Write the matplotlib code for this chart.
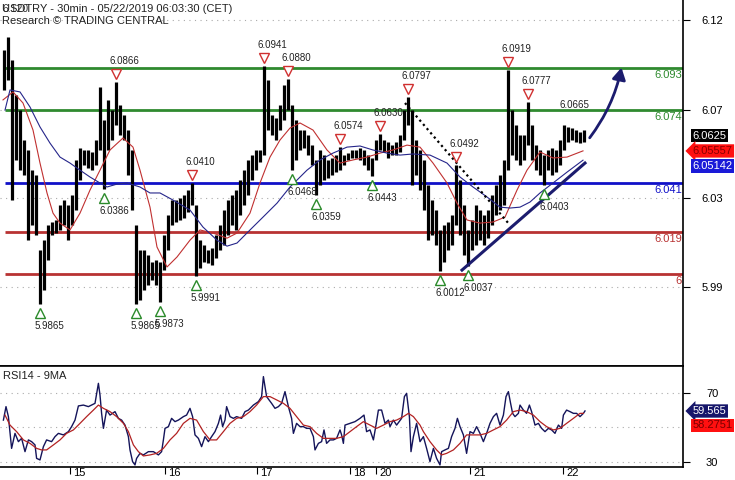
import matplotlib
matplotlib.use("Agg")
import matplotlib.pyplot as plt
import matplotlib.transforms as mtransforms
from matplotlib.patches import FancyArrowPatch
import numpy as np

plt.rcParams['font.family'] = ['Liberation Sans', 'DejaVu Sans']

# ---- price bars (one column per hour, high / low) ----
hi = [6.1011, 6.1070, 6.0966, 6.0808, 6.0740, 6.0605, 6.0560, 6.0469, 6.0447, 6.0108,
      6.0153, 6.0221, 6.0235, 6.0244, 6.0311, 6.0334, 6.0311, 6.0357, 6.0515, 6.0569,
      6.0560, 6.0560, 6.0551, 6.0605, 6.0844, 6.0695, 6.0786, 6.0740, 6.0866, 6.0763,
      6.0718, 6.0650, 6.0560, 6.0221, 6.0108, 6.0108, 6.0086, 6.0054, 6.0063, 6.0054,
      6.0176, 6.0266, 6.0334, 6.0334, 6.0343, 6.0357, 6.0379, 6.0410, 6.0311, 6.0153,
      6.0131, 6.0108, 6.0117, 6.0176, 6.0221, 6.0289, 6.0334, 6.0357, 6.0379, 6.0424,
      6.0469, 6.0515, 6.0537, 6.0560, 6.0560, 6.0941, 6.0876, 6.0718, 6.0704, 6.0763,
      6.0853, 6.0880, 6.0763, 6.0695, 6.0650, 6.0650, 6.0628, 6.0582, 6.0515, 6.0560,
      6.0537, 6.0515, 6.0524, 6.0537, 6.0574, 6.0537, 6.0546, 6.0560, 6.0560, 6.0569,
      6.0560, 6.0537, 6.0524, 6.0605, 6.0630, 6.0605, 6.0596, 6.0582, 6.0596, 6.0628,
      6.0740, 6.0797, 6.0740, 6.0605, 6.0560, 6.0515, 6.0402, 6.0334, 6.0289, 6.0199,
      6.0221, 6.0235, 6.0266, 6.0492, 6.0424, 6.0311, 6.0199, 6.0244, 6.0311, 6.0289,
      6.0266, 6.0289, 6.0357, 6.0402, 6.0447, 6.0515, 6.0919, 6.0740, 6.0673, 6.0628,
      6.0628, 6.0777, 6.0673, 6.0582, 6.0560, 6.0537, 6.0560, 6.0569, 6.0560, 6.0605,
      6.0673, 6.0664, 6.0659, 6.0650, 6.0641, 6.0650]
lo = [6.0831, 6.0876, 6.0334, 6.0515, 6.0469, 6.0447, 6.0153, 6.0221, 6.0176, 5.9865,
      5.9928, 6.0063, 6.0176, 6.0185, 6.0199, 6.0221, 6.0153, 6.0221, 6.0289, 6.0424,
      6.0492, 6.0478, 6.0469, 6.0492, 6.0560, 6.0386, 6.0560, 6.0605, 6.0673, 6.0628,
      6.0605, 6.0447, 6.0289, 5.9865, 5.9883, 5.9928, 5.9950, 5.9973, 5.9950, 5.9873,
      6.0018, 6.0108, 6.0221, 6.0235, 6.0244, 6.0253, 6.0280, 6.0311, 5.9991, 6.0027,
      6.0054, 6.0050, 6.0041, 6.0072, 6.0108, 6.0131, 6.0176, 6.0221, 6.0199, 6.0266,
      6.0311, 6.0357, 6.0424, 6.0469, 6.0506, 6.0537, 6.0650, 6.0628, 6.0605, 6.0650,
      6.0695, 6.0740, 6.0468, 6.0515, 6.0560, 6.0569, 6.0537, 6.0492, 6.0359, 6.0402,
      6.0424, 6.0433, 6.0447, 6.0460, 6.0469, 6.0492, 6.0515, 6.0524, 6.0524, 6.0515,
      6.0492, 6.0469, 6.0443, 6.0515, 6.0560, 6.0551, 6.0524, 6.0537, 6.0537, 6.0551,
      6.0605, 6.0673, 6.0402, 6.0447, 6.0379, 6.0289, 6.0153, 6.0176, 6.0131, 6.0012,
      6.0054, 6.0108, 6.0131, 6.0221, 6.0176, 6.0086, 6.0037, 6.0108, 6.0131, 6.0153,
      6.0131, 6.0162, 6.0221, 6.0266, 6.0289, 6.0311, 6.0469, 6.0537, 6.0515, 6.0492,
      6.0515, 6.0582, 6.0515, 6.0469, 6.0447, 6.0403, 6.0469, 6.0447, 6.0460, 6.0492,
      6.0560, 6.0596, 6.0605, 6.0596, 6.0591, 6.0596]
bar_x = np.arange(len(hi)) * 2

# ---- moving averages on price ----
red_x = [-0.5, 4.5, 9.5, 14.5, 18, 21.5, 24.5, 28, 33, 38, 43, 48, 53, 59.5, 64.5, 68, 73,
         76.5, 81.5, 86.5, 93, 98, 104.5, 111.5, 116.5, 123, 128, 133, 138, 143, 148, 154.5,
         161.5, 168, 174.5, 181.5, 188, 194.5, 201.5, 208, 214.5, 221.5, 226.5, 231.5, 238,
         244.5, 250.5, 256.5, 261.5, 268, 274.5, 281.5, 289.5]
red_v = [6.0786, 6.0822, 6.0772, 6.0650, 6.0501, 6.0366, 6.0275, 6.0230, 6.0199, 6.0275,
         6.0379, 6.0469, 6.0560, 6.0614, 6.0573, 6.0469, 6.0302, 6.0122, 6.0032, 6.0077,
         6.0153, 6.0199, 6.0185, 6.0162, 6.0185, 6.0275, 6.0411, 6.0528, 6.0605, 6.0659,
         6.0682, 6.0650, 6.0560, 6.0501, 6.0515, 6.0528, 6.0546, 6.0560, 6.0582, 6.0573,
         6.0501, 6.0411, 6.0320, 6.0244, 6.0230, 6.0235, 6.0257, 6.0379, 6.0469, 6.0551,
         6.0524, 6.0528, 6.0556]
blue_x = [0.5, 3, 8, 13, 18, 23, 28, 33, 38, 43, 48, 51.5, 56.5, 61.5, 68, 73, 78, 84.5, 93,
          99.5, 106.5, 111.5, 116.5, 123, 129.5, 136.5, 143, 151.5, 158, 164.5, 171.5, 178,
          184.5, 191.5, 198, 204.5, 213, 221.5, 228, 234.5, 241.5, 248, 253, 258, 263, 268,
          274.5, 281.5, 289.5]
blue_v = [6.0740, 6.0831, 6.0822, 6.0754, 6.0664, 6.0591, 6.0528, 6.0501, 6.0469, 6.0438,
          6.0411, 6.0393, 6.0406, 6.0411, 6.0393, 6.0366, 6.0366, 6.0334, 6.0289, 6.0212,
          6.0153, 6.0126, 6.0140, 6.0199, 6.0257, 6.0320, 6.0393, 6.0469, 6.0515, 6.0546,
          6.0573, 6.0578, 6.0560, 6.0546, 6.0537, 6.0542, 6.0537, 6.0501, 6.0438, 6.0393,
          6.0348, 6.0302, 6.0298, 6.0302, 6.0325, 6.0366, 6.0411, 6.0460, 6.0514]

# ---- support / resistance levels ----
green_levels = [6.093, 6.074]
blue_levels = [6.041]
red_levels = [6.019, 6.000]
level_labels = {6.093: "6.093", 6.074: "6.074", 6.041: "6.041", 6.019: "6.019", 6.000: "6"}

# ---- swing labels ----
top_x = [56, 94, 130, 142, 168, 188, 202, 226, 252, 262]
top_v = [6.0866, 6.0410, 6.0941, 6.0880, 6.0574, 6.0630, 6.0797, 6.0492, 6.0919, 6.0777]
bot_x = [18, 50, 66, 78, 96, 144, 156, 184, 218, 232, 270]
bot_v = [5.9865, 6.0386, 5.9865, 5.9873, 5.9991, 6.0468, 6.0359, 6.0443, 6.0012, 6.0037, 6.0403]

# ---- drawn lines ----
dot_x = [200.5, 253]
dot_v = [6.0772, 6.0221]
trend_x = [229, 290.5]
trend_v = [6.0018, 6.0501]
arrow_x = [292, 309]
arrow_v = [6.0605, 6.0944]

# ---- RSI ----
rsi_x = [-0.3, 1, 2.2, 3.8, 5.5, 7.2, 8.8, 10.5, 12.2, 13.8, 15.5, 16.3, 18, 19.7, 21.3, 23.8,
         25.5, 27.2, 29.7, 32.2, 33.8, 35.5, 37.2, 39.7, 42.2, 45.5, 47.2, 48, 48.8, 49.7,
         51.3, 53, 55.5, 57.2, 58.8, 60.5, 62.2, 63, 64.3, 65.5, 66.3, 68, 69.7, 72.2, 74.7,
         77.2, 78.8, 79.7, 80.5, 82.2, 83.8, 85.5, 87.2, 89.7, 91.3, 93, 94.3, 95.5, 97.2,
         98.8, 100.5, 102.2, 103.8, 105.5, 107.2, 108.3, 109.3, 110.5, 111.3, 113, 114.7,
         116.3, 118.8, 120.5, 122.2, 124.7, 127.2, 128.8, 129.7, 131.3, 133.8, 135.5, 137.2,
         138.8, 140.5, 142.2, 143.8, 144.7, 146.3, 148,
         149.7, 151.3, 153, 154.7, 155.5, 157.2, 158.8, 160, 161.3, 163, 164.7, 166.3, 168,
         168.8, 169.7, 170.5, 173, 175.5, 178, 180, 181.3, 183, 184.7, 186, 187.2, 188.8,
         190.5, 192.2, 193, 194.7, 196.3, 198.8, 200.2, 201.3, 202.7, 203.5, 204.7, 206.3,
         208, 209.7, 211.3, 213, 214.7, 216.3, 218, 218.8, 220.5, 222.2, 223.8, 225.5, 226.7,
         228, 229.7, 231.3, 233, 234.7, 236.3, 238, 239.7, 241.3, 243, 244.7, 246.3, 248,
         249.7, 251, 252.2, 253.3, 254.3, 255.5, 257.2, 258, 259.7, 261.3, 262.7, 263.8,
         265.5, 267.2, 268.8, 270.5, 272.2, 273.8, 275.5, 277.2, 278.8, 279.7, 281.3, 283,
         284.7, 286.3, 288, 289.7, 290.5]
rsi_v = [54.3, 62.1, 56.3, 37.9, 46.6, 41.8, 43.7, 36.0, 42.8, 41.8, 39.9, 32.1, 31.2, 38.9,
         42.8, 41.8, 44.7, 46.6, 45.7, 47.6, 50.5, 54.3, 62.5, 63.0, 62.1, 64.0, 75.6, 68.8,
         58.2, 49.5, 60.1, 57.2, 59.2, 55.3, 54.3, 51.4, 44.7, 37.0, 30.2, 28.3, 32.1, 35.0,
         34.1, 36.0, 36.0, 34.1, 36.0, 42.8, 49.5, 50.5, 55.3, 53.4, 54.3, 56.3, 57.2, 61.1,
         56.3, 45.7, 43.7, 38.9, 44.7, 41.8, 44.7, 47.6, 52.4, 57.2, 50.5, 54.3, 62.1, 56.3,
         55.3, 56.3, 55.3, 59.2, 60.1, 63.0, 65.0, 67.9, 79.5, 67.9, 64.0, 61.1, 62.1, 64.0,
         70.8, 62.1, 55.3, 46.6, 52.4, 50.5,
         50.5, 49.5, 49.5, 44.7, 37.0, 40.8, 41.8, 48.6, 40.8, 42.8, 42.8, 43.7, 48.6, 45.7,
         40.8, 51.4, 52.4, 53.4, 55.3, 57.2, 47.6, 48.6, 42.8, 51.4, 60.1, 60.1, 52.4, 54.3,
         50.5, 54.3, 51.4, 55.3, 67.9, 69.8, 56.3, 36.0, 44.7, 52.4, 41.8, 44.7, 37.9, 30.2,
         37.9, 32.1, 28.3, 36.0, 37.0, 37.9, 44.7, 49.5, 55.3, 50.5, 45.7, 35.0, 47.6, 46.6,
         50.5, 46.6, 41.8, 46.6, 52.4, 56.3, 58.2, 51.4, 57.2, 67.9, 70.8, 64.0, 58.2, 56.3,
         58.2, 63.0, 60.1, 58.2, 63.0, 59.2, 51.4, 52.4, 49.5, 47.6, 49.5, 48.6, 46.6, 51.4,
         49.5, 57.2, 60.1, 59.2, 58.2, 58.2, 56.3, 58.2, 59.6]
rma_x = [0.5, 3, 6.3, 9.7, 13, 16.3, 18.8, 21.3, 24.7, 28, 31.3, 34.7, 38, 41.3, 44.7, 47.2,
         49.7, 53, 56.3, 59.7, 62.2, 64.7, 67.2, 69.7, 73, 76.3, 79.7, 83, 86.3, 89.7, 93,
         96.3, 99.7, 103, 106.3, 109.7, 113, 116.3, 119.7, 123, 126.3, 129.7, 133, 136.3,
         139.7, 143, 146.3, 149.7, 153, 156.3, 159.7, 163, 166.3, 169.7, 173, 176.3, 179.7,
         183, 186.3, 189.7, 193, 196.3, 199.7, 202.2, 204.7, 208, 209.7, 213, 216.3, 218.8,
         221.3, 224.7, 228, 231.3, 234.7, 238, 241.3, 244.7, 248, 251.3, 254.7, 258, 261.3,
         264.7, 268, 271.3, 274.7, 278, 281.3, 284.7, 288, 289.7]
rma_v = [57.2, 51.4, 47.6, 42.8, 40.8, 37.9, 37.0, 37.0, 39.9, 42.8, 46.6, 48.6, 52.4, 56.3,
         60.1, 63.0, 61.1, 59.2, 56.3, 52.4, 47.6, 39.9, 36.0, 33.5, 34.1, 35.0, 37.9, 42.8,
         46.6, 52.4, 55.3, 54.3, 47.6, 42.8, 42.8, 47.6, 52.4, 55.3, 56.3, 59.2, 63.0, 67.9,
         67.9, 66.0, 64.0, 61.1, 56.3, 51.4, 50.5, 46.6, 43.7, 43.7, 43.7, 44.7, 47.6, 50.5,
         53.4, 51.4, 49.5, 51.4, 53.4, 54.3, 56.3, 58.2, 56.3, 51.4, 47.6, 41.8, 37.0, 34.1,
         35.0, 37.0, 40.8, 45.7, 45.7, 45.7, 46.6, 48.6, 50.5, 54.3, 59.2, 60.1, 59.2, 57.2,
         53.4, 50.5, 48.6, 49.5, 52.4, 55.3, 58.2, 58.2]

day_pos = [33, 80.5, 126.5, 173, 186, 233, 279.5]
day_lbl = ["15", "16", "17", "18", "20", "21", "22"]

price_ticks = [6.1147, 6.0740, 6.0343, 5.9941]
price_tick_lbl = ["6.12", "6.07", "6.03", "5.99"]

GREEN = "#2f8a2f"
BLUE = "#1010c8"
RED = "#b83232"
NAVY = "#1c1c6e"

fig = plt.figure(figsize=(7.35, 4.8), dpi=100)
ax = fig.add_axes([0, 1 - 366 / 480, 683 / 735, 366 / 480])
rx = fig.add_axes([0, 1 - 467 / 480, 683 / 735, 101 / 480])

# ---- main panel ----
ax.set_xlim(-2, 339.5)
ax.set_ylim(5.9585, 6.1237)
for v in price_ticks:
    ax.axhline(v, color="#aaaaaa", lw=0.8, ls=(0, (1, 4)), zorder=0)

ax.vlines(bar_x, lo, hi, color="black", lw=2.3, zorder=3)
ax.plot(red_x, red_v, color="#c03030", lw=0.8, zorder=4)
ax.plot(blue_x, blue_v, color="#25258a", lw=0.8, zorder=4)

for v in green_levels:
    ax.hlines(v, 0.5, 339.5, color=GREEN, lw=2, zorder=2)
for v in blue_levels:
    ax.hlines(v, 0.5, 339.5, color=BLUE, lw=2, zorder=2)
for v in red_levels:
    ax.hlines(v, 0.5, 339.5, color=RED, lw=2, zorder=2)

lvl_tr = mtransforms.offset_copy(
    mtransforms.blended_transform_factory(ax.transAxes, ax.transData), fig, y=-2, units="dots")
for v, s in level_labels.items():
    c = GREEN if v in green_levels else (BLUE if v in blue_levels else RED)
    ax.text(0.998, v, s, transform=lvl_tr, ha="right", va="top", fontsize=8, color=c)

ax.plot(dot_x, dot_v, color="black", ls=(0, (1, 1.5)), lw=1.6, zorder=5)
ax.plot(trend_x, trend_v, color=NAVY, lw=2.2, zorder=5)
ax.add_patch(FancyArrowPatch((arrow_x[0], arrow_v[0]), (arrow_x[1], arrow_v[1]),
                             arrowstyle="-|>,head_length=7,head_width=4",
                             connectionstyle="arc3,rad=0.12", color=NAVY, lw=2, zorder=6))

mk_up = mtransforms.offset_copy(ax.transData, fig, y=8, units="dots")
tx_up = mtransforms.offset_copy(ax.transData, fig, x=-7, y=16, units="dots")
for x, v in zip(top_x, top_v):
    ax.plot(x, v, marker="v", ms=7, mfc="white", mec="#d03030", mew=1, transform=mk_up, zorder=7)
    ax.text(x, v, f"{v:.4f}", transform=tx_up, ha="left", va="bottom", fontsize=7, color="#222222")
mk_dn = mtransforms.offset_copy(ax.transData, fig, y=-9, units="dots")
tx_dn = mtransforms.offset_copy(ax.transData, fig, x=-5, y=-17, units="dots")
for x, v in zip(bot_x, bot_v):
    ax.plot(x, v, marker="^", ms=7, mfc="white", mec="#2a8a2a", mew=1, transform=mk_dn, zorder=7)
    ax.text(x, v, f"{v:.4f}", transform=tx_dn, ha="left", va="top", fontsize=7, color="#222222")
ax.text(284, 6.0665, "6.0665", transform=mtransforms.offset_copy(ax.transData, fig, x=-12, y=17, units="dots"),
        ha="left", va="bottom", fontsize=7, color="#222222")

ax.text(0.003, 0.99, "6.120", transform=ax.transAxes, fontsize=7.5, color="#333333", va="top")
ax.text(0.003, 0.99, "USDTRY - 30min - 05/22/2019 06:03:30 (CET)", transform=ax.transAxes,
        fontsize=8, va="top", color="#222222")
ax.text(0.003, 0.955, "Research © TRADING CENTRAL", transform=ax.transAxes,
        fontsize=8, va="top", color="#222222")

# price tags
tag_tr = mtransforms.blended_transform_factory(ax.transAxes, ax.transData)
ax.text(1.014, 6.0625, "6.0625", transform=tag_tr, ha="left", va="center", fontsize=8,
        color="white", bbox=dict(boxstyle="square,pad=0.15", fc="black", ec="none"), clip_on=False)
ax.text(1.014, 6.05557, "6.05557", transform=tag_tr, ha="left", va="center", fontsize=8,
        color="#8a0000", bbox=dict(boxstyle="larrow,pad=0.15", fc="#ff1010", ec="none"), clip_on=False)
ax.text(1.014, 6.05142, "6.05142",
        transform=mtransforms.offset_copy(tag_tr, fig, y=-6, units="dots"), ha="left", va="center",
        fontsize=8, color="white", bbox=dict(boxstyle="square,pad=0.15", fc="#1a1ad8", ec="none"),
        clip_on=False)

ax.set_yticks(price_ticks)
ax.set_yticklabels(price_tick_lbl)
ax.yaxis.tick_right()
ax.tick_params(axis="y", length=5, pad=16, labelsize=8, direction="out")
for t in ax.get_yticklabels():
    t.set_horizontalalignment("center")
ax.set_xticks([])
for s in ["left", "top"]:
    ax.spines[s].set_visible(False)
ax.spines["right"].set_linewidth(1.2)
ax.spines["bottom"].set_linewidth(1.2)

# ---- RSI panel ----
rx.set_xlim(-2, 339.5)
rx.set_ylim(27.1, 85.65)
for v in [70, 50, 30]:
    rx.axhline(v, color="#aaaaaa", lw=0.8, ls=(0, (1, 4)), zorder=0)
rx.plot(rsi_x, rsi_v, color="#14145a", lw=1)
rx.plot(rma_x, rma_v, color="#b22222", lw=0.9)
rx.text(0.005, 0.95, "RSI14 - 9MA", transform=rx.transAxes, fontsize=8, va="top", color="#222222")

rtag = mtransforms.blended_transform_factory(rx.transAxes, rx.transData)
rx.text(1.014, 59.565, "59.565", transform=rtag, ha="left", va="center", fontsize=8,
        color="white", bbox=dict(boxstyle="larrow,pad=0.15", fc="#16166a", ec="none"), clip_on=False)
rx.text(1.014, 58.2751, "58.2751", transform=mtransforms.offset_copy(rtag, fig, y=-12, units="dots"),
        ha="left", va="center", fontsize=8, color="#7a0000",
        bbox=dict(boxstyle="square,pad=0.15", fc="#ff1010", ec="none"), clip_on=False)

rx.set_yticks([70, 30])
rx.yaxis.tick_right()
rx.tick_params(axis="y", length=5, pad=16, labelsize=8)
for t in rx.get_yticklabels():
    t.set_horizontalalignment("center")
rx.set_xticks(day_pos)
rx.set_xticklabels(day_lbl, fontsize=8, ha="left")
rx.tick_params(axis="x", length=5, pad=-4)
shift = mtransforms.ScaledTranslation(3 / 100, 0, fig.dpi_scale_trans)
for t in rx.get_xticklabels():
    t.set_transform(t.get_transform() + shift)
rx.spines["left"].set_visible(False)
for s in ["top", "bottom", "right"]:
    rx.spines[s].set_linewidth(1.2)

fig.savefig("out.png", dpi=100)
